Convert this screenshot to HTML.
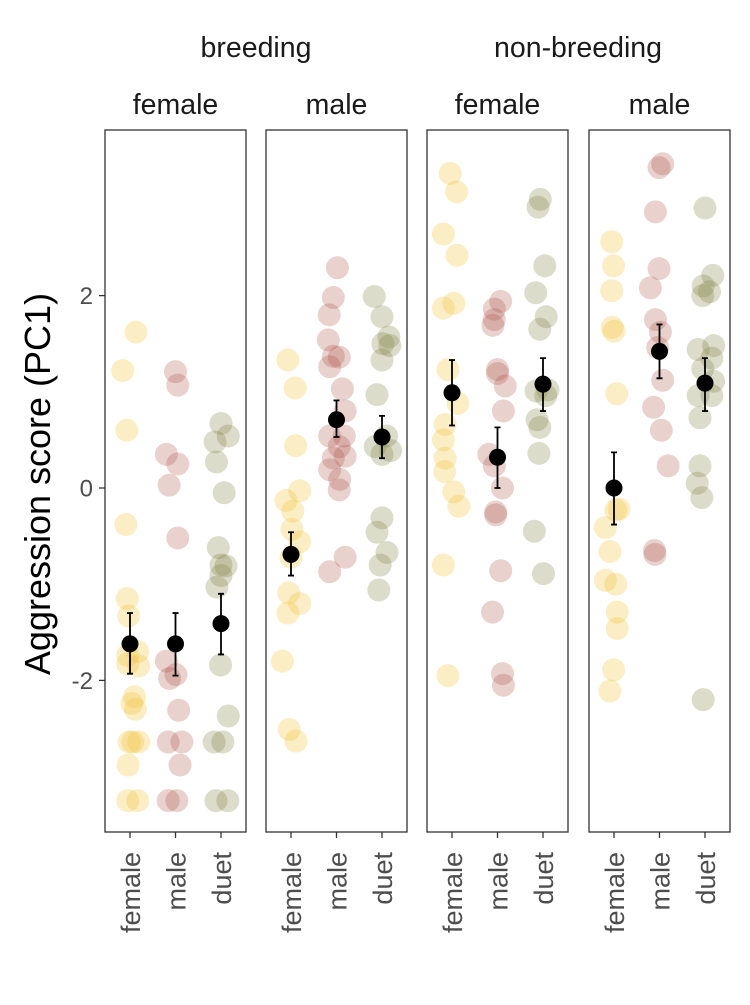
<!DOCTYPE html>
<html><head><meta charset="utf-8"><style>
body{margin:0;background:#fff}
svg text{font-family:"Liberation Sans",Arial,sans-serif}
</style></head><body>
<svg id="c" width="750" height="1000" xmlns="http://www.w3.org/2000/svg"></svg>
<script>
const panels=["breeding-female","breeding-male","nonbreeding-female","nonbreeding-male"];
const categories=["female","male","duet"];
const yTicks=[2,0,-2];
const vals=[
 [[1.62,1.22,0.60,-0.38,-1.15,-1.33,-1.74,-1.70,-1.85,-1.83,-2.17,-2.24,-2.30,-2.64,-2.64,-2.64,-2.88,-3.25,-3.25],
  [1.21,1.07,0.35,0.25,0.03,-0.52,-1.80,-1.98,-1.94,-2.31,-2.64,-2.64,-2.88,-3.25,-3.25],
  [0.67,0.48,0.54,0.27,-0.05,-0.62,-0.80,-0.81,-0.91,-1.03,-1.84,-2.37,-2.64,-2.64,-3.25,-3.25]],
 [[1.33,1.04,0.44,-0.03,-0.13,-0.24,-0.43,-0.56,-0.72,-1.09,-1.20,-1.30,-1.80,-2.51,-2.63],
  [2.29,1.98,1.80,1.54,1.26,1.36,1.37,1.03,0.80,0.54,0.54,0.43,0.31,0.33,0.19,0.09,-0.02,-0.87,-0.72],
  [1.99,1.78,1.57,1.50,1.48,1.33,0.97,0.54,0.39,0.43,0.35,-0.31,-0.46,-0.67,-0.80,-1.06]],
 [[3.27,3.08,2.64,2.42,1.87,1.92,1.23,0.88,0.66,0.50,0.31,0.17,-0.04,-0.19,-0.80,-1.95],
  [1.94,1.86,1.75,1.69,1.23,1.19,1.06,0.80,0.35,0.23,0,-0.25,-0.28,-0.86,-1.29,-1.93,-2.05],
  [3.00,2.92,2.31,2.03,1.78,1.65,1.01,0.96,1.02,0.71,0.63,0.36,-0.45,-0.89]],
 [[2.56,2.31,2.05,1.67,1.63,0.98,-0.22,-0.23,-0.41,-0.66,-0.96,-1.00,-1.29,-1.46,-1.89,-2.11],
  [3.37,3.33,2.87,2.28,2.08,1.75,1.62,1.46,1.12,0.84,0.60,0.23,-0.65,-0.69],
  [2.91,2.21,2.10,2.04,2.00,1.48,1.44,1.35,1.24,1.11,0.96,0.96,0.73,0.23,0.05,-0.10,-2.20]]
];
const jit=[
 [[.13,-.16,-.07,-.09,-.06,-.03,-.05,.17,.19,-.05,.1,.04,.12,.06,.19,-.02,-.04,-.05,.17],
  [0,.05,-.2,.05,-.14,.05,-.2,-.13,.01,.07,-.16,.14,.1,-.16,.03],
  [0,-.13,.16,-.1,.07,-.06,0,.11,0,-.09,-.01,.16,-.15,.04,-.11,.15]],
 [[-.07,.09,.1,.19,-.11,.04,.02,.19,0,-.05,.19,-.07,-.19,-.04,.11],
  [.02,-.07,-.16,-.18,-.15,.06,-.07,.13,.19,-.15,.17,.06,-.07,.19,-.15,.07,.06,-.15,.19],
  [-.17,0,.15,.02,.17,0,-.11,.1,.19,-.15,0,0,-.11,.11,-.04,-.07]],
 [[-.04,.1,-.19,.11,-.19,.04,-.09,.13,-.15,-.19,-.15,-.16,.04,.15,-.19,-.09],
  [.07,-.07,-.07,-.1,0,0,.17,.13,-.19,-.07,.11,-.04,-.04,.07,-.11,.11,.13],
  [-.06,-.11,.04,-.16,.07,-.07,-.15,.06,.11,-.13,-.07,-.09,-.19,.01]],
 [[-.05,-.01,-.05,-.04,0,.06,.11,.04,-.19,-.09,-.19,.04,.07,.07,-.01,-.09],
  [.07,-.01,-.09,-.01,-.2,-.09,.02,-.04,.07,-.13,.04,.19,-.11,-.1],
  [0,.17,-.04,.1,-.05,.19,-.15,.15,-.05,.19,-.15,.15,-.11,-.11,-.17,-.07,-.04]]
];
const means=[[-1.62,-1.62,-1.41],[-0.69,0.71,0.53],[0.99,0.32,1.08],[0.0,1.42,1.09]];
const errLo=[[-1.93,-1.95,-1.73],[-0.91,0.53,0.31],[0.65,0.0,0.80],[-0.38,1.14,0.80]];
const errHi=[[-1.30,-1.30,-1.10],[-0.46,0.91,0.75],[1.33,0.63,1.35],[0.37,1.70,1.35]];
const fills=["rgba(242,196,60,0.3)","rgba(168,72,60,0.25)","rgba(125,130,64,0.28)"];

const NS="http://www.w3.org/2000/svg",svg=document.getElementById("c");
function mk(t,a,p){const e=document.createElementNS(NS,t);for(const k in a)e.setAttribute(k,a[k]);(p||svg).appendChild(e);return e;}
const pLeft=[105,266,427,589],pW=141,pTop=130,pBot=832;
const yS=v=>488-96.2*v;
const xS=(p,i)=>pLeft[p]+25+i*45.5;

[["breeding",256],["non-breeding",578]].forEach(([t,cx])=>{
 const e=mk("text",{x:cx,y:57,"text-anchor":"middle","font-size":28.5,fill:"#1a1a1a"});e.textContent=t;
 
 
});
["female","male","female","male"].forEach((t,p)=>{
 const e=mk("text",{x:pLeft[p]+pW/2,y:114,"text-anchor":"middle","font-size":28.5,fill:"#1a1a1a"});e.textContent=t;
 
 
});
yTicks.forEach(v=>{
 const t=mk("text",{x:93,y:yS(v)+8.5,"text-anchor":"end","font-size":24,fill:"#4d4d4d"});t.textContent=v;
 
 
 const l=mk("line",{x1:99,x2:105,y1:yS(v),y2:yS(v),stroke:"#333","stroke-width":1.3});
 
 
});
const yt=mk("text",{x:0,y:0,transform:"translate(50,484) rotate(-90)","text-anchor":"middle","font-size":36,fill:"#000"});
yt.textContent="Aggression score (PC1)";



panels.forEach((pn,p)=>{
 const g=mk("g",{});
 
 
 categories.forEach((c,i)=>{
  vals[p][i].forEach((v,k)=>{
   const ci=mk("circle",{cx:xS(p,i)+(jit[p][i][k]||0)*45.5,cy:yS(v),r:11.5,fill:fills[i]},g);
   
   
  });
 });
 categories.forEach((c,i)=>{
  const cx=xS(p,i);
  const eb=mk("path",{d:`M${cx-3},${yS(errHi[p][i])}H${cx+3}M${cx},${yS(errHi[p][i])}V${yS(errLo[p][i])}M${cx-3},${yS(errLo[p][i])}H${cx+3}`,stroke:"#000","stroke-width":1.8,fill:"none"},g);
  
  
  const m=mk("circle",{cx:cx,cy:yS(means[p][i]),r:8.5,fill:"#000"},g);
  
  
  const tk=mk("line",{x1:cx,x2:cx,y1:pBot,y2:pBot+6,stroke:"#333","stroke-width":1.3});
  
  
  const tl=mk("text",{x:0,y:0,transform:`translate(${cx+10},${pBot+20}) rotate(-90)`,"text-anchor":"end","font-size":27,fill:"#4d4d4d"});
  tl.textContent=c;
  
  
 });
 const fr=mk("rect",{x:pLeft[p],y:pTop,width:pW,height:pBot-pTop,fill:"none",stroke:"#333","stroke-width":1.3});
 
 
});
</script>
</body></html>
